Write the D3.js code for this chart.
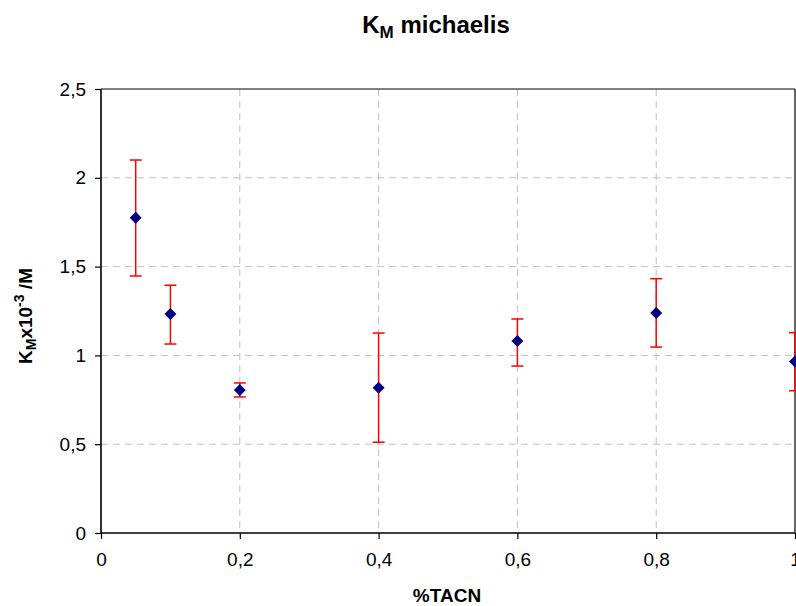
<!DOCTYPE html>
<html><head><meta charset="utf-8">
<script src="https://cdn.jsdelivr.net/npm/d3@7"></script>
<style>body{margin:0;background:#fff}svg{display:block;font-family:Arial,"Liberation Sans",sans-serif}</style>
</head><body><svg id="c" width="796" height="606"></svg>
<script>
const xValues = [0.05, 0.1, 0.2, 0.4, 0.6, 0.8, 1.0];
const yValues = [1.775, 1.233, 0.805, 0.818, 1.081, 1.239, 0.965];
const errHigh = [2.10, 1.395, 0.845, 1.126, 1.205, 1.432, 1.128];
const errLow  = [1.447, 1.064, 0.766, 0.511, 0.940, 1.047, 0.801];
const xTicks = [0, 0.2, 0.4, 0.6, 0.8, 1];
const yTicks = [0, 0.5, 1, 1.5, 2, 2.5];
const fmt = v => String(v).replace('.', ',');

const svg = d3.select('#c');
const L = 101, R = 795, T = 89, B = 533;
const x = d3.scaleLinear().domain([0, 1]).range([L, R]);
const y = d3.scaleLinear().domain([0, 2.5]).range([B, T]);

// grid
svg.append('g').selectAll('line').data(yTicks.slice(1, -1)).join('line')
  .attr('x1', L).attr('x2', R).attr('y1', d => y(d)).attr('y2', d => y(d))
  .attr('stroke', '#c0c0c0').attr('stroke-dasharray', '7,5').attr('stroke-width', 1);
svg.append('g').selectAll('line').data(xTicks.slice(1, -1)).join('line')
  .attr('y1', T).attr('y2', B).attr('x1', d => x(d)).attr('x2', d => x(d))
  .attr('stroke', '#c0c0c0').attr('stroke-dasharray', '7,5').attr('stroke-width', 1);

// frame
svg.append('line').attr('x1', L).attr('x2', R).attr('y1', T).attr('y2', T).attr('stroke', '#000').attr('stroke-width', 1);
svg.append('line').attr('x1', R).attr('x2', R).attr('y1', T).attr('y2', B).attr('stroke', '#000').attr('stroke-width', 1.2);

// axes
const xAxis = d3.axisBottom(x).tickValues(xTicks).tickFormat(fmt).tickSize(6).tickPadding(14);
const gx = svg.append('g').attr('transform', `translate(0,${B})`).call(xAxis);
gx.attr('font-size', 19).attr('font-family', 'Arial, "Liberation Sans", sans-serif');
gx.select('.domain').attr('stroke-width', 1.6).attr('d', `M${L},0H${R}`);
gx.selectAll('.tick line').attr('stroke-width', 1.2);
gx.selectAll('text').attr('fill', '#000');

const yAxis = d3.axisLeft(y).tickValues(yTicks).tickFormat(fmt).tickSize(6).tickPadding(9);
const gy = svg.append('g').attr('transform', `translate(${L},0)`).call(yAxis);
gy.attr('font-size', 19).attr('font-family', 'Arial, "Liberation Sans", sans-serif');
gy.select('.domain').attr('stroke-width', 1.6).attr('d', `M0,${T}V${B}`);
gy.selectAll('.tick line').attr('stroke-width', 1.2);
gy.selectAll('text').attr('fill', '#000');

// error bars
const eb = svg.append('g').attr('stroke', '#ff0000').attr('stroke-width', 1.5);
xValues.forEach((xv, i) => {
  eb.append('line').attr('x1', x(xv)).attr('x2', x(xv)).attr('y1', y(errHigh[i])).attr('y2', y(errLow[i]));
  eb.append('line').attr('x1', x(xv) - 6).attr('x2', x(xv) + 6).attr('y1', y(errHigh[i])).attr('y2', y(errHigh[i]));
  eb.append('line').attr('x1', x(xv) - 6).attr('x2', x(xv) + 6).attr('y1', y(errLow[i])).attr('y2', y(errLow[i]));
});

// markers
svg.append('g').selectAll('path').data(xValues).join('path')
  .attr('d', (d, i) => `M${x(d)},${y(yValues[i]) - 6}L${x(d) + 6},${y(yValues[i])}L${x(d)},${y(yValues[i]) + 6}L${x(d) - 6},${y(yValues[i])}Z`)
  .attr('fill', '#000080');

// title
const t = svg.append('text').attr('x', 436).attr('y', 33).attr('text-anchor', 'middle')
  .attr('font-size', 24).attr('font-weight', 'bold');
t.append('tspan').text('K');
t.append('tspan').attr('font-size', 17).attr('dy', 5).text('M');
t.append('tspan').attr('dy', -5).text(' michaelis');

// x label
svg.append('text').attr('x', 447).attr('y', 602).attr('text-anchor', 'middle')
  .attr('font-size', 19).attr('font-weight', 'bold').text('%TACN');

// y label
const yl = svg.append('text').attr('transform', 'translate(32,316) rotate(-90)').attr('text-anchor', 'middle')
  .attr('font-size', 19).attr('font-weight', 'bold');
yl.append('tspan').text('K');
yl.append('tspan').attr('font-size', 14).attr('dy', 4).text('M');
yl.append('tspan').attr('dy', -4).text('x10');
yl.append('tspan').attr('font-size', 14).attr('dy', -8).text('-3');
yl.append('tspan').attr('dy', 8).text(' /M');
</script></body></html>
